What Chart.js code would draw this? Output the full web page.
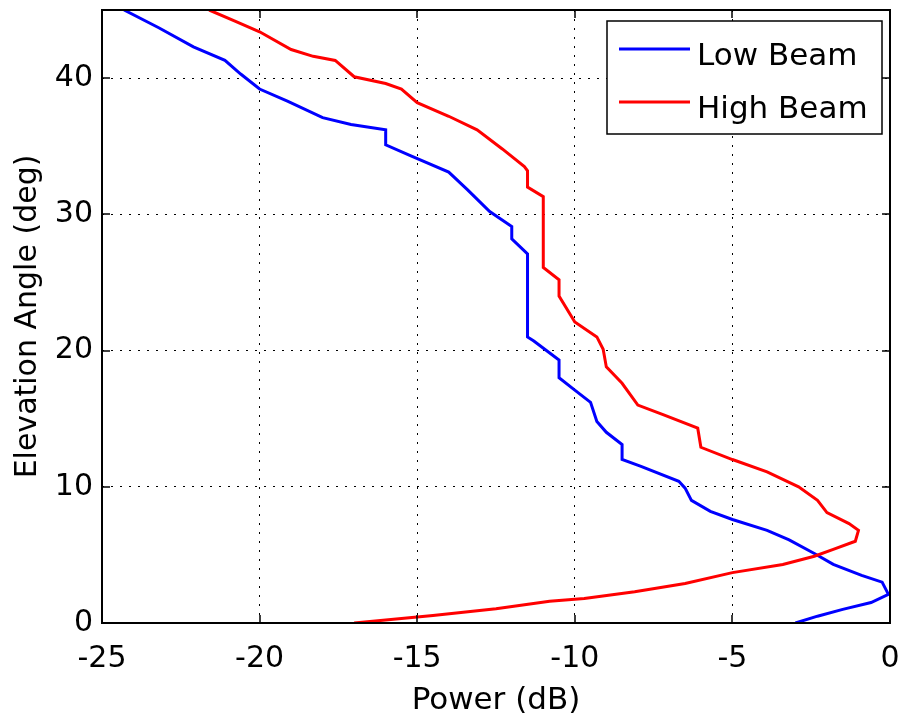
<!DOCTYPE html>
<html>
<head>
<meta charset="utf-8">
<title>Low / High Beam elevation pattern</title>
<script src="https://cdn.jsdelivr.net/npm/chart.js@4.4.1/dist/chart.umd.min.js"></script>
<style>
  html, body { margin: 0; padding: 0; background: #fff; }
  canvas { display: block; }
</style>
</head>
<body>
<canvas id="beams" width="901" height="725"></canvas>
<script>
// power (dB) / elevation (deg), read along each curve from the top down
const lowBeamPower = [-24.3, -23.2, -22.1, -21.1, -20.6, -20.0, -19.1, -18.0, -17.1, -16.0, -16.0, -15.2, -14.0, -13.4,
  -12.7, -12.0, -12.0, -11.5, -11.5, -11.3, -10.5, -10.5, -10.0, -9.5, -9.3, -9.0, -8.5, -8.5, -7.9, -6.7, -6.5, -6.3,
  -5.7, -5.0, -3.9, -3.2, -2.4, -1.8, -0.9, -0.25, -0.05, -0.6, -1.5, -2.3, -3.0]
const lowBeamElev = [45, 43.7, 42.3, 41.3, 40.3, 39.2, 38.3, 37.1, 36.6, 36.2, 35.1, 34.3, 33.1, 31.8,
  30.2, 29.1, 28.2, 27.1, 21.0, 20.7, 19.3, 18.0, 17.1, 16.2, 14.8, 14.0, 13.1, 12.0, 11.5, 10.4, 9.9, 9.0,
  8.2, 7.6, 6.8, 6.1, 5.1, 4.3, 3.5, 3.0, 2.1, 1.5, 1.0, 0.5, 0]

const highBeamPower = [-21.6, -20.8, -20.0, -19.0, -18.3, -17.6, -17.0, -16.0, -15.5, -15.0, -14.0, -13.1, -12.3, -11.6,
  -11.5, -11.5, -11.0, -11.0, -10.5, -10.5, -10.0, -9.3, -9.1, -9.0, -8.5, -8.0, -7.2, -6.1, -6.0, -5.0, -3.9, -2.9,
  -2.3, -2.0, -1.3, -1.0, -1.1, -1.8, -2.4, -3.4, -5.0, -6.5, -8.1, -9.7, -10.8, -12.5, -14.5, -17.0]
const highBeamElev = [45, 44.2, 43.4, 42.1, 41.6, 41.3, 40.1, 39.6, 39.2, 38.2, 37.2, 36.2, 34.8, 33.5,
  33.2, 32.0, 31.3, 26.1, 25.2, 24.0, 22.1, 21.0, 20.1, 18.8, 17.6, 16.0, 15.3, 14.3, 12.9, 12.0, 11.1, 10.0,
  9.0, 8.1, 7.3, 6.8, 6.0, 5.4, 4.9, 4.3, 3.7, 2.9, 2.3, 1.8, 1.6, 1.05, 0.55, 0]

const seriesNames = ['Low Beam', 'High Beam']
const seriesColors = ['#0000ff', '#ff0000']
const powerTicks = [-25, -20, -15, -10, -5, 0]
const elevTicks = [0, 10, 20, 30, 40]

const FONT = 'DejaVu Sans'

function toPoints (xs, ys) {
  return xs.map((v, i) => ({ x: v, y: ys[i] }))
}

// matlab-style frame: full box, inward ticks, legend inside the axes
const matlabAxes = {
  id: 'matlabAxes',
  beforeDraw (chart) {
    const { ctx, width, height } = chart
    ctx.save()
    ctx.fillStyle = '#fff'
    ctx.fillRect(0, 0, width, height)
    ctx.restore()
  },
  afterDatasetsDraw (chart) {
    const { ctx, chartArea: a, scales: { x, y } } = chart
    const len = 8
    ctx.save()
    ctx.strokeStyle = '#000'
    ctx.lineWidth = 1.5
    ctx.beginPath()
    x.ticks.forEach(t => {
      const px = Math.round(x.getPixelForValue(t.value))
      ctx.moveTo(px, a.bottom); ctx.lineTo(px, a.bottom - len)
      ctx.moveTo(px, a.top); ctx.lineTo(px, a.top + len)
    })
    y.ticks.forEach(t => {
      const py = Math.round(y.getPixelForValue(t.value))
      ctx.moveTo(a.left, py); ctx.lineTo(a.left + len, py)
      ctx.moveTo(a.right, py); ctx.lineTo(a.right - len, py)
    })
    ctx.stroke()
    ctx.lineWidth = 2
    ctx.strokeRect(a.left, a.top, a.right - a.left, a.bottom - a.top)

    // legend box
    const bx = a.right - 283, by = a.top + 11, bw = 275, bh = 113
    ctx.fillStyle = '#fff'
    ctx.fillRect(bx, by, bw, bh)
    ctx.lineWidth = 1.5
    ctx.strokeRect(bx, by, bw, bh)
    chart.data.datasets.forEach((ds, i) => {
      const ly = by + 28 + i * 53
      ctx.strokeStyle = ds.borderColor
      ctx.lineWidth = 3
      ctx.beginPath()
      ctx.moveTo(bx + 12, ly); ctx.lineTo(bx + 83, ly)
      ctx.stroke()
      ctx.fillStyle = '#000'
      ctx.font = '31px "' + FONT + '"'
      ctx.textBaseline = 'middle'
      ctx.textAlign = 'left'
      ctx.fillText(ds.label, bx + 90, ly + 8)
    })
    ctx.restore()
  }
}

new Chart(document.getElementById('beams'), {
  type: 'scatter',
  data: {
    datasets: [
      {
        label: seriesNames[0],
        data: toPoints(lowBeamPower, lowBeamElev),
        borderColor: seriesColors[0],
        order: 1
      },
      {
        label: seriesNames[1],
        data: toPoints(highBeamPower, highBeamElev),
        borderColor: seriesColors[1],
        order: 0
      }
    ].map(ds => Object.assign(ds, {
      showLine: true, borderWidth: 3, pointRadius: 0, tension: 0, fill: false
    }))
  },
  options: {
    responsive: false,
    animation: false,
    layout: { padding: { top: 10, right: 11, left: 0, bottom: 0 } },
    plugins: { legend: { display: false }, tooltip: { enabled: false } },
    scales: {
      x: {
        type: 'linear', min: -25, max: 0,
        afterBuildTicks: s => { s.ticks = powerTicks.map(v => ({ value: v })) },
        afterFit: s => { s.height = 102; s.paddingLeft = 0; s.paddingRight = 0 },
        grid: { color: '#000', lineWidth: 1, drawTicks: false },
        border: { display: false, dash: [2, 7] },
        ticks: { color: '#000', padding: 18, maxRotation: 0, font: { family: FONT, size: 30 } },
        title: {
          display: true, text: 'Power (dB)', color: '#000',
          font: { family: FONT, size: 31 }, padding: { top: 0, bottom: 5 }
        }
      },
      y: {
        type: 'linear', min: 0, max: 45,
        afterBuildTicks: s => { s.ticks = elevTicks.map(v => ({ value: v })) },
        afterFit: s => { s.width = 102; s.paddingTop = 0; s.paddingBottom = 0 },
        grid: { color: '#000', lineWidth: 1, drawTicks: false },
        border: { display: false, dash: [2, 7] },
        ticks: { color: '#000', padding: 9, font: { family: FONT, size: 30 } },
        title: {
          display: true, text: 'Elevation Angle (deg)', color: '#000',
          font: { family: FONT, size: 30 }, padding: { top: 10, bottom: 0 }
        }
      }
    }
  },
  plugins: [matlabAxes]
})
</script>
</body>
</html>
